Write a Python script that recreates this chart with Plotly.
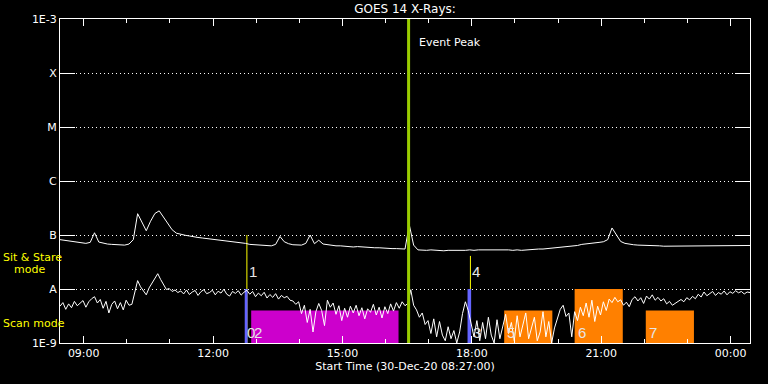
import math
import plotly.graph_objects as go
import pandas as pd

# ---------------- data ----------------
DAY = "2020-12-30"
START = pd.Timestamp("2020-12-30 08:27")
END = START + pd.Timedelta(hours=16)

# GOES 1-8 A (long) channel, units of 1e-8 W/m^2, 6-minute cadence from START
long_flux_1e8 = [
    8.2, 8.0, 7.8, 7.6, 7.3, 7.1, 7.0, 7.3, 11.0, 7.4,
    7.0, 6.8, 6.7, 6.6, 6.4, 6.5, 6.8, 8.2, 24.8, 17.0,
    12.0, 18.0, 25.0, 28.0, 21.0, 16.0, 12.5, 10.8, 10.2, 9.9,
    9.6, 9.2, 9.0, 8.8, 8.6, 8.5, 8.2, 8.1, 7.9, 7.7,
    7.6, 7.4, 7.2, 7.0, 6.7, 6.6, 6.5, 6.4, 6.4, 6.3,
    6.7, 9.4, 7.5, 6.9, 6.6, 6.6, 6.5, 7.0, 10.0, 6.9,
    8.0, 6.8, 6.6, 6.5, 6.3, 6.3, 6.2, 6.1, 6.0, 6.1,
    6.0, 5.9, 5.9, 5.8, 5.8, 5.7, 5.7, 5.6, 5.6, 5.5,
    5.5, 15.4, 6.5, 5.3, 5.2, 5.2, 5.3, 5.2, 5.2, 5.1,
    5.2, 5.2, 5.1, 5.2, 5.2, 5.3, 5.2, 5.3, 5.3, 5.4,
    5.4, 5.3, 5.4, 5.3, 5.3, 5.2, 5.3, 5.2, 5.3, 5.3,
    5.4, 5.5, 5.5, 5.6, 5.6, 5.7, 5.8, 5.9, 6.0, 6.2,
    6.4, 6.7, 6.9, 7.1, 7.2, 7.3, 7.5, 8.2, 13.5, 10.0,
    7.6, 7.0, 6.7, 6.6, 6.5, 6.5, 6.4, 6.3, 6.3, 6.3,
    6.2, 6.2, 6.3, 6.2, 6.2, 6.3, 6.3, 6.2, 6.3, 6.2,
    6.3, 6.2, 6.3, 6.3, 6.3, 6.2, 6.3, 6.3, 6.4, 6.3,
    6.4,
]
LONG_CADENCE_MIN = 6

# GOES 0.5-4 A (short) channel, units of 1e-9 W/m^2, 4-minute cadence from START
short_flux_1e9 = [
    4.8, 5.6, 4.2, 5.3, 4.5, 5.9, 4.9, 5.4, 6.1, 4.6,
    5.8, 6.6, 7.2, 5.5, 6.4, 4.4, 5.9, 3.6, 5.2, 6.0,
    4.3, 5.6, 4.1, 6.2, 5.0, 5.2, 9.0, 14.3, 11.0, 9.0,
    7.8, 10.5, 13.0, 15.5, 19.2, 15.0, 12.0, 9.8, 10.2, 9.0,
    9.6, 8.6, 9.2, 8.1, 9.6, 7.9, 8.8, 9.4, 7.6, 8.9,
    9.7, 8.2, 8.6, 9.5, 7.8, 9.1, 8.4, 9.9, 8.0, 7.4,
    9.0, 8.3, 9.3, 7.7, 8.7, 9.5, 8.0, 9.0, 7.2, 8.4,
    7.5, 8.7, 6.8, 7.9, 7.0, 8.2, 6.5, 7.6, 6.9, 7.3,
    6.2, 6.0, 5.2, 5.8, 3.5, 5.0, 2.4, 4.2, 1.6, 3.8,
    5.4, 4.0, 2.1, 6.2, 4.6, 5.5, 3.4, 4.9, 2.6, 4.4,
    3.0, 4.8, 3.6, 5.0, 3.2, 4.5, 2.8, 4.3, 3.7, 5.2,
    3.3, 4.6, 2.9, 4.7, 3.5, 5.3, 3.9, 5.6, 4.4, 5.8,
    4.9, 5.4, 9.7, 5.0, 4.1, 3.0, 3.6, 2.2, 2.6, 1.5,
    2.8, 1.3, 2.5, 1.4, 1.1, 2.0, 1.2, 1.7, 1.0, 1.6,
    3.5, 5.8, 4.0, 2.2, 1.3, 2.6, 1.1, 2.4, 1.2, 3.0,
    1.4, 1.0, 2.7, 1.2, 2.0, 3.4, 1.5, 2.4, 1.1, 3.2,
    1.3, 2.2, 3.6, 1.2, 1.8, 3.0, 1.1, 1.6, 3.8, 1.3,
    2.5, 1.0, 1.9, 3.0, 4.2, 5.0, 3.1, 3.6, 1.3, 3.8,
    2.6, 4.6, 3.2, 5.5, 3.0, 6.2, 2.5, 4.8, 3.3, 5.8,
    4.0, 6.5, 5.6, 7.0, 5.8, 6.3, 5.0, 5.7, 4.7, 6.4,
    7.2, 6.0, 6.9, 5.4, 7.4, 6.5, 7.8, 6.2, 7.0, 6.0,
    6.6, 5.3, 5.9, 5.0, 5.4, 5.9, 6.4, 5.8, 6.9, 6.3,
    7.3, 6.6, 8.0, 7.1, 8.8, 7.5, 8.2, 9.0, 7.6, 8.6,
    8.0, 9.2, 7.8, 8.9, 8.3, 9.3, 8.5, 9.0, 8.1, 8.8,
    8.6,
]
SHORT_CADENCE_MIN = 4

# observation blocks (label, start, end, top flux, kind)
block_labels = ["0", "2", "3", "5", "6", "7"]
block_start = ["12:44", "12:53", "17:54", "18:45", "20:23", "22:02"]
block_end = ["12:48", "16:18", "17:59", "19:52", "21:30", "23:09"]
block_top = [1e-8, 4e-9, 1e-8, 4e-9, 1e-8, 4e-9]
block_kind = ["bar", "scan", "bar", "orange", "orange", "orange"]

# marker lines
marker_labels = ["1", "4"]
marker_time = ["12:47", "17:58"]
marker_top = [1e-7, 4.1e-8]

event_peak_time = "16:32"

ytick_vals = [1e-9, 1e-8, 1e-7, 1e-6, 1e-5, 1e-4, 1e-3]
ytick_text = ["1E-9", "A", "B", "C", "M", "X", "1E-3"]

# ---------------- style ----------------
FONT = "DejaVu Sans"
NUM_FONT = "Liberation Sans"
KIND_COLOR = {"bar": "#6464ff", "scan": "#cc00cc", "orange": "#ff8000"}
BOTTOM = 1e-9
TOP = 1e-3
LABEL_Y_LOW = 1.55e-9
LABEL_Y_MARK = 2.1e-8


def T(hm):
    return pd.Timestamp(f"{DAY} {hm}")


long_t = [START + pd.Timedelta(minutes=LONG_CADENCE_MIN * i) for i in range(len(long_flux_1e8))]
short_t = [START + pd.Timedelta(minutes=SHORT_CADENCE_MIN * i) for i in range(len(short_flux_1e9))]
long_y = [v * 1e-8 for v in long_flux_1e8]
short_y = [v * 1e-9 for v in short_flux_1e9]

fig = go.Figure()

# blocks except thin bars (drawn under everything)
for lab, s, e, top, kind in zip(block_labels, block_start, block_end, block_top, block_kind):
    if kind == "bar":
        continue
    fig.add_trace(go.Scatter(
        x=[T(s), T(s), T(e), T(e), T(s)], y=[BOTTOM, top, top, BOTTOM, BOTTOM],
        mode="lines", fill="toself", fillcolor=KIND_COLOR[kind],
        line=dict(width=0, color=KIND_COLOR[kind]), hoverinfo="skip"))

# yellow marker lines
for lab, t, top in zip(marker_labels, marker_time, marker_top):
    fig.add_trace(go.Scatter(x=[T(t), T(t)], y=[BOTTOM, top], mode="lines",
                             line=dict(color="#ffff00", width=1), hoverinfo="skip"))

# thin blue bars
for lab, s, e, top, kind in zip(block_labels, block_start, block_end, block_top, block_kind):
    if kind != "bar":
        continue
    fig.add_trace(go.Scatter(
        x=[T(s), T(s), T(e), T(e), T(s)], y=[BOTTOM, top, top, BOTTOM, BOTTOM],
        mode="lines", fill="toself", fillcolor=KIND_COLOR[kind],
        line=dict(width=0, color=KIND_COLOR[kind]), hoverinfo="skip"))

# flux curves
fig.add_trace(go.Scatter(x=long_t, y=long_y, mode="lines",
                         line=dict(color="white", width=1), hoverinfo="skip"))
fig.add_trace(go.Scatter(x=short_t, y=short_y, mode="lines",
                         line=dict(color="white", width=1), hoverinfo="skip"))

# event peak line
fig.add_trace(go.Scatter(x=[T(event_peak_time), T(event_peak_time)], y=[BOTTOM, TOP],
                         mode="lines", line=dict(color="#9acd00", width=3), hoverinfo="skip"))

annotations = []
label_shift = {"0": 1, "2": 2, "3": 4, "5": 2, "6": 2, "7": 2}
for lab, s in zip(block_labels, block_start):
    annotations.append(dict(
        text=lab, xref="x", x=T(s), xshift=label_shift[lab], xanchor="left",
        yref="y", y=math.log10(LABEL_Y_LOW), yanchor="middle", showarrow=False,
        borderpad=0, font=dict(family=NUM_FONT, size=15, color="#e6e6e6")))
for lab, t in zip(marker_labels, marker_time):
    annotations.append(dict(
        text=lab, xref="x", x=T(t), xshift=1, xanchor="left",
        yref="y", y=math.log10(LABEL_Y_MARK), yanchor="middle", showarrow=False,
        borderpad=0, font=dict(family=NUM_FONT, size=15, color="#e6e6e6")))

annotations += [
    dict(text="Event Peak", xref="x", x=T(event_peak_time), xshift=8, xanchor="left",
         yref="paper", y=0.927, yanchor="middle", showarrow=False,
         font=dict(family=FONT, size=11, color="white")),
    dict(text="Sit & Stare", xref="paper", x=0, xshift=-59, xanchor="left",
         yref="paper", y=0.263, yanchor="middle", showarrow=False,
         font=dict(family=FONT, size=11, color="#ffff00")),
    dict(text="mode", xref="paper", x=0, xshift=-48, xanchor="left",
         yref="paper", y=0.226, yanchor="middle", showarrow=False,
         font=dict(family=FONT, size=11, color="#ffff00")),
    dict(text="Scan mode", xref="paper", x=0, xshift=-59, xanchor="left",
         yref="paper", y=0.06, yanchor="middle", showarrow=False,
         font=dict(family=FONT, size=11, color="#ffff00")),
]

fig.update_layout(
    width=768, height=384,
    margin=dict(l=60, r=18, t=19, b=41, pad=0),
    paper_bgcolor="black", plot_bgcolor="black",
    showlegend=False,
    font=dict(family=FONT, size=11, color="white"),
    title=dict(text="GOES 14 X-Rays:", x=0.5, xref="paper", xanchor="center",
               y=1 - 9 / 384, yref="container", yanchor="middle",
               font=dict(family=FONT, size=12, color="white")),
    annotations=annotations,
    xaxis=dict(
        type="date", range=[START, END],
        showline=True, linecolor="white", linewidth=1, mirror="ticks",
        ticks="inside", ticklen=7, tickcolor="white", tickwidth=1,
        tick0=f"{DAY} 09:00", dtick=3 * 3600000, tickformat="%H:%M",
        tickfont=dict(family=FONT, size=11, color="white"),
        minor=dict(ticks="inside", ticklen=4, tickcolor="white", dtick=3600000,
                   tick0=f"{DAY} 09:00", showgrid=False),
        showgrid=False, zeroline=False,
        title=dict(text="Start Time (30-Dec-20 08:27:00)", standoff=2,
                   font=dict(family=FONT, size=11, color="white")),
        automargin=False,
    ),
    yaxis=dict(
        type="log", range=[-9, -3],
        showline=True, linecolor="white", linewidth=1, mirror="ticks",
        ticks="inside", ticklen=15, tickcolor="white", tickwidth=1,
        tickvals=ytick_vals, ticktext=ytick_text,
        tickfont=dict(family=FONT, size=11, color="#ffffff"),
        showgrid=True, gridcolor="white", gridwidth=1, griddash="1px,3px",
        zeroline=False, automargin=False,
    ),
)

fig.write_html("out.html")
